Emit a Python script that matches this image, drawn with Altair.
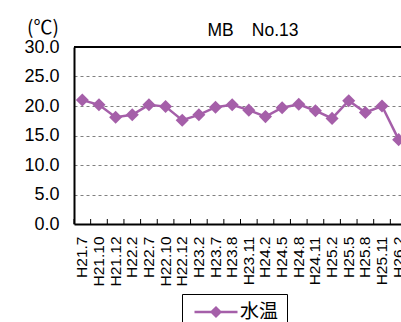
import altair as alt
import pandas as pd

# ---- data ----
labels = ["H21.7", "H21.10", "H21.12", "H22.2", "H22.7", "H22.10", "H22.12",
          "H23.2", "H23.7", "H23.8", "H23.11", "H24.2", "H24.5", "H24.8",
          "H24.11", "H25.2", "H25.5", "H25.8", "H25.11", "H26.2"]
temps = [21.0, 20.2, 18.1, 18.5, 20.2, 19.9, 17.6,
         18.5, 19.8, 20.2, 19.3, 18.2, 19.7, 20.3,
         19.2, 17.9, 20.9, 18.9, 20.0, 14.3]
series_name = "水温"
title_text = "MB\u3000No.13"
unit_text = "(℃)"
y_ticks = [0, 5, 10, 15, 20, 25, 30]

PURPLE = "#A55FA9"
FONT = "Liberation Sans"

df = pd.DataFrame({"label": labels, "temp": temps,
                   "series": [series_name] * len(labels)})

x_scale = alt.Scale(type="band", paddingInner=0, paddingOuter=0, range=[0, 333])
x_axis = alt.Axis(title=None, labelAngle=270, labelAlign="right",
                  labelBaseline="middle", labelPadding=12, labelFontSize=15.5,
                  labelFont=FONT, labelColor="black", ticks=False, tickSize=0,
                  domain=True, domainColor="black", domainWidth=2,
                  labelOverlap=False, grid=False)
y_scale = alt.Scale(domain=[0, 30], nice=False, zero=True)
y_axis = alt.Axis(title=None, values=y_ticks, format=".1f", labelFontSize=18,
                  labelFont=FONT, labelColor="black", labelPadding=15,
                  ticks=False, tickSize=0, domain=True, domainColor="black",
                  domainWidth=2, grid=True, gridColor="#808080",
                  gridDash=[3, 3], gridWidth=1,
                  gridOpacity={"condition": {"test": "datum.value === 0 || datum.value === 30", "value": 0}, "value": 1})

x_enc = alt.X("label:N", sort=labels, scale=x_scale, axis=x_axis)
y_enc = alt.Y("temp:Q", scale=y_scale, axis=y_axis)

base = alt.Chart(df)

line = base.mark_line(strokeWidth=2.5).encode(
    x=x_enc, y=y_enc,
    color=alt.Color("series:N",
                    scale=alt.Scale(domain=[series_name], range=[PURPLE]),
                    legend=alt.Legend(title=None, orient="none", legendX=108, legendY=247,
                                      symbolType="M-2.5,0L2.5,0M-0.5,0L0,-0.5L0.5,0L0,0.5Z",
                                      symbolSize=296, symbolStrokeWidth=2.5,
                                      symbolOffset=16,
                                      symbolFillColor=PURPLE, symbolStrokeColor=PURPLE,
                                      labelFontSize=19, labelFont="Noto Sans CJK JP",
                                      labelColor="black", labelOffset=14, padding=8,
                                      strokeColor="black", fillColor="white")),
)

points = base.mark_point(shape="diamond", filled=True, size=170, opacity=1).encode(
    x=x_enc, y=y_enc, color=alt.value(PURPLE)
)

ticks = base.mark_rule(color="black", strokeWidth=1).encode(
    x=alt.X("label:N", sort=labels, scale=x_scale, axis=x_axis, bandPosition=0),
    y=alt.value(177), y2=alt.value(172),
)

top_border = alt.Chart(pd.DataFrame({"k": [0]})).mark_rule(color="black", strokeWidth=2).encode(
    x=alt.value(0), x2=alt.value(333), y=alt.value(0)
)

title = alt.Chart(pd.DataFrame({"t": [title_text]})).mark_text(
    font=FONT, fontSize=17.5, align="center", baseline="alphabetic", color="black"
).encode(x=alt.value(179), y=alt.value(-11), text="t:N")

unit = alt.Chart(pd.DataFrame({"t": [unit_text]})).mark_text(
    font="Noto Sans CJK JP", fontSize=19, align="left", baseline="middle", color="black"
).encode(x=alt.value(-47), y=alt.value(-19.5), text="t:N")

chart = alt.layer(ticks, line, points, top_border, title, unit).properties(
    width=327, height=177,
    autosize=alt.AutoSizeParams(type="none"),
    padding={"left": 74, "top": 47, "right": 0, "bottom": 98},
).configure_view(strokeWidth=0)

chart.save("out.html", embed_options={"renderer": "svg", "actions": False})
